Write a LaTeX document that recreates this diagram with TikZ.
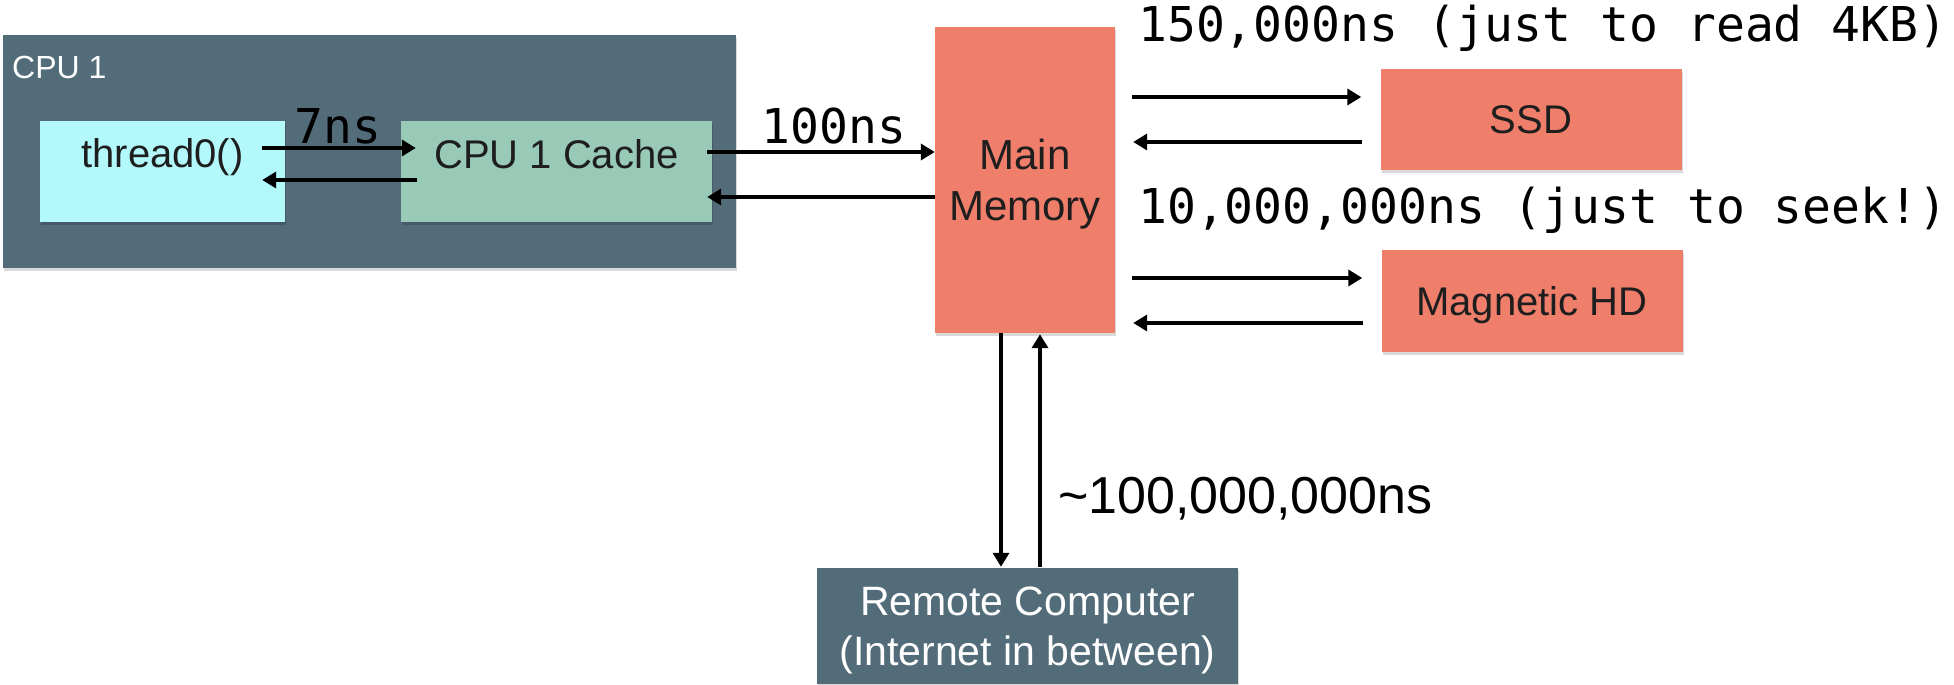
\documentclass[tikz,border=0pt]{standalone}
\usepackage{fontspec}
\setmainfont{Liberation Sans}
\newfontfamily\monofont{DejaVu Sans Mono}
\usetikzlibrary{arrows.meta,shadows,calc}
\definecolor{slate}{HTML}{536C7A}
\definecolor{cyanbox}{HTML}{B3F9FC}
\definecolor{cachebox}{HTML}{98CAB7}
\definecolor{salmon}{HTML}{EF7E6B}
\definecolor{ink}{HTML}{1E1E1E}
\begin{document}
\begin{tikzpicture}[x=1pt,y=-1pt,
  box/.style={rectangle, inner sep=0pt, draw=none,
    drop shadow={shadow xshift=1pt, shadow yshift=-3pt, opacity=0.15, fill=black}},
  lbl/.style={font=\fontsize{40}{50}\selectfont, text=ink, align=center, inner sep=0pt},
  wlbl/.style={font=\fontsize{41}{50}\selectfont, text=white, align=center, inner sep=0pt},
  mono/.style={font=\monofont\fontsize{48}{56}\selectfont, text=black, inner sep=0pt},
  arr/.style={line width=4.8pt, -{Triangle[length=14pt,width=16pt]}},
]
\useasboundingbox (0,0) rectangle (1954,685);

% boxes
\node[box, fill=slate, minimum width=733pt, minimum height=233pt] (cpu) at (369,151.5) {};
\node[anchor=base west, font=\fontsize{32}{38}\selectfont, text=white, inner sep=0pt] (cpulbl) at (12,78) {CPU 1};
\node[box, fill=cyanbox, minimum width=245pt, minimum height=101pt] (thread) at (162.5,171.5) {};
\node[lbl, anchor=base] (threadtxt) at (162.5,167) {thread0()};
\node[box, fill=cachebox, minimum width=311pt, minimum height=101pt] (cache) at (556.5,171.5) {};
\node[lbl, anchor=base] (cachetxt) at (556.5,168) {CPU 1 Cache};

\node[box, fill=salmon, minimum width=180pt, minimum height=306pt, lbl,
  font=\fontsize{42}{51}\selectfont, text depth=0pt] (mem) at (1025,180) {Main\\Memory};
\node[box, fill=salmon, minimum width=301pt, minimum height=100pt, lbl, text depth=0pt] (ssd) at (1531,119.5) {SSD};
\node[box, fill=salmon, minimum width=301pt, minimum height=102pt, lbl, text depth=0pt] (hd) at (1532,301) {Magnetic HD};
\node[box, fill=slate, minimum width=421pt, minimum height=116pt, wlbl, text depth=0pt] (remote) at (1027.5,626) {Remote Computer\\(Internet in between)};

% labels
\node[mono, anchor=base] (l7) at (338,143) {7ns};
\node[mono, anchor=base] (l100) at (834,143) {100ns};
\node[mono, anchor=base west] (lssd) at (1138,42) {150,000ns (just to read 4KB)};
\node[mono, anchor=base west] (lhd) at (1138,223) {10,000,000ns (just to seek!)};
\node[anchor=base west, inner sep=0pt, font=\fontsize{52}{60}\selectfont, text=black] (lnet) at (1058,513) {\char`\~100,000,000ns};

% arrows
\draw[arr] ($(thread.east)+(-23,-23.5)$) -- ($(cache.west)+(15,-23.5)$);
\draw[arr] ($(cache.west)+(16,8.5)$) -- ($(thread.east)+(-23,8.5)$);
\draw[arr] ($(cache.east)+(-5,-19.5)$) -- ($(mem.west)+(0,-28)$);
\draw[arr] ($(mem.west)+(0,17)$) -- ($(cache.east)+(-5,25.5)$);
\draw[arr] ($(mem.east)+(17,-83)$) -- ($(ssd.west)+(-19,-22.5)$);
\draw[arr] ($(ssd.west)+(-18,22.5)$) -- ($(mem.east)+(18,-38)$);
\draw[arr] ($(mem.east)+(17,98)$) -- ($(hd.west)+(-19,-23)$);
\draw[arr] ($(hd.west)+(-18,22)$) -- ($(mem.east)+(18,143)$);
\draw[arr] ($(mem.south)+(-24,0)$) -- ($(remote.north)+(-26.5,-1)$);
\draw[arr] ($(remote.north)+(12.5,-1)$) -- ($(mem.south)+(15,1)$);
\end{tikzpicture}
\end{document}
